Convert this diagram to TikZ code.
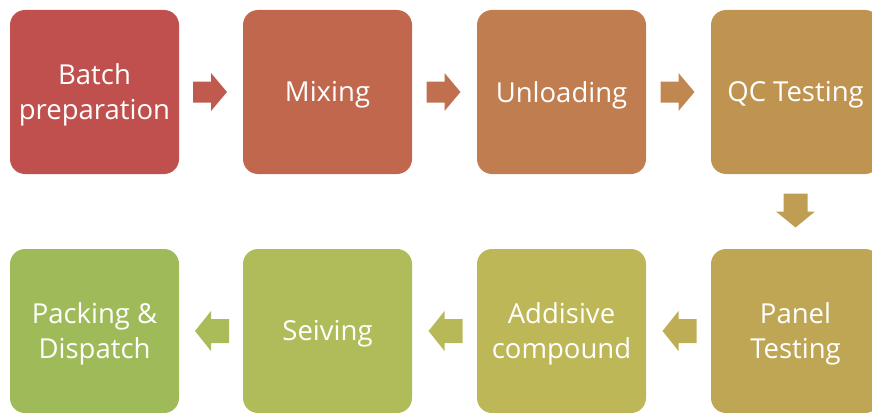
\documentclass[tikz,border=0pt]{standalone}
\usepackage{fontspec}
\setmainfont{Open Sans}
\usetikzlibrary{calc}
\definecolor{cA}{HTML}{C0504D}
\definecolor{cB}{HTML}{C0674E}
\definecolor{cC}{HTML}{C07E50}
\definecolor{cD}{HTML}{BF9451}
\definecolor{cE}{HTML}{BFA654}
\definecolor{cF}{HTML}{BDB757}
\definecolor{cG}{HTML}{AFBC59}
\definecolor{cH}{HTML}{9FBB59}
\tikzset{
  stepbox/.style={rectangle, rounded corners=15pt, minimum width=169pt, minimum height=164pt,
    inner sep=0pt},
  steptext/.style={text=white, align=center, inner sep=0pt, yshift=-3pt,
    font=\fontsize{27.5}{35}\selectfont},
}
\begin{document}
\begin{tikzpicture}[x=1pt,y=-1pt]
\useasboundingbox (0,0) rectangle (872,412);
\node[stepbox, fill=cA, label={[steptext]center:{Batch\\preparation}}] (b1) at (94.5,92) {};
\node[stepbox, fill=cB, label={[steptext]center:{Mixing}}] (b2) at (327.5,92) {};
\node[stepbox, fill=cC, label={[steptext]center:{Unloading}}] (b3) at (561.5,92) {};
\node[stepbox, fill=cD, label={[steptext]center:{QC Testing}}] (b4) at (795.5,92) {};
\node[stepbox, fill=cE, label={[steptext]center:{Panel\\Testing}}] (b5) at (795.5,331) {};
\node[stepbox, fill=cF, label={[steptext]center:{Addisive\\compound}}] (b6) at (561.5,331) {};
\node[stepbox, fill=cG, label={[steptext]center:{Seiving}}] (b7) at (327.5,331) {};
\node[stepbox, fill=cH, label={[steptext]center:{Packing \&\\Dispatch}}] (b8) at (94.5,331) {};
% right arrows
\coordinate (m1) at ($(b1.east)!0.5!(b2.west)$);
\coordinate (m2) at ($(b2.east)!0.5!(b3.west)$);
\coordinate (m3) at ($(b3.east)!0.5!(b4.west)$);
\fill[cA!60!cB, shift={(m1)}] (-18,-10.5) -- (0,-10.5) -- (0,-19) -- (16,0) -- (0,19) -- (0,10.5) -- (-18,10.5) -- cycle;
\fill[cB!60!cC, shift={(m2)}] (-18,-10.5) -- (0,-10.5) -- (0,-19) -- (16,0) -- (0,19) -- (0,10.5) -- (-18,10.5) -- cycle;
\fill[cC!60!cD, shift={(m3)}] (-18,-10.5) -- (0,-10.5) -- (0,-19) -- (16,0) -- (0,19) -- (0,10.5) -- (-18,10.5) -- cycle;
% down arrow
\coordinate (m4) at ($(b4.south)!0.5!(b5.north)$);
\fill[cD!50!cE, shift={(m4)}] (-12,-18) -- (12,-18) -- (12,0) -- (19.5,0) -- (0,16) -- (-19.5,0) -- (-12,0) -- cycle;
% left arrows
\coordinate (m5) at ($(b5.west)!0.5!(b6.east)$);
\coordinate (m6) at ($(b6.west)!0.5!(b7.east)$);
\coordinate (m7) at ($(b7.west)!0.5!(b8.east)$);
\fill[cE!60!cF, shift={(m5)}] (18,-12) -- (0,-12) -- (0,-20) -- (-16,0) -- (0,20) -- (0,12) -- (18,12) -- cycle;
\fill[cF!60!cG, shift={(m6)}] (18,-12) -- (0,-12) -- (0,-20) -- (-16,0) -- (0,20) -- (0,12) -- (18,12) -- cycle;
\fill[cG!60!cH, shift={(m7)}] (18,-12) -- (0,-12) -- (0,-20) -- (-16,0) -- (0,20) -- (0,12) -- (18,12) -- cycle;
\end{tikzpicture}
\end{document}
